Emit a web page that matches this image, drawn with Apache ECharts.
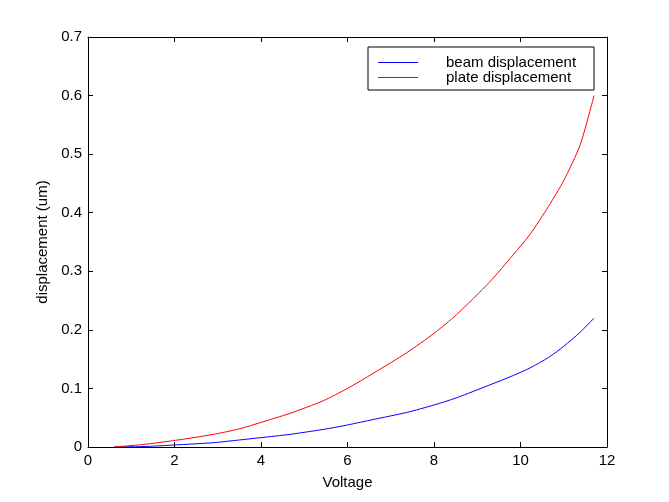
<!DOCTYPE html>
<html>
<head>
<meta charset="utf-8">
<script src="https://cdn.jsdelivr.net/npm/echarts@6/dist/echarts.min.js"></script>
<style>
html,body{margin:0;padding:0;background:#fff;}
#chart{width:669px;height:502px;}
</style>
</head>
<body>
<div id="chart"></div>
<script>
// Data
var voltage = [0.6, 1.36, 2.13, 2.9, 3.5, 4.0, 4.67, 5.44, 6.0, 6.6, 7.37, 8.0, 8.52, 9.29, 9.83, 10.22, 10.65, 11.0, 11.38, 11.7];
var beamDisp = [0, 0.001, 0.004, 0.0074, 0.012, 0.016, 0.0216, 0.030, 0.0376, 0.047, 0.059, 0.0717, 0.084, 0.106, 0.122, 0.135, 0.153, 0.172, 0.196, 0.22];
var plateDisp = [0, 0.005, 0.0125, 0.0216, 0.031, 0.042, 0.0575, 0.079, 0.100, 0.126, 0.161, 0.194, 0.226, 0.282, 0.328, 0.363, 0.411, 0.455, 0.516, 0.600];
var seriesNames = ['beam displacement', 'plate displacement'];
var xTitle = 'Voltage';
var yTitle = 'displacement (um)';

function pairs(xs, ys) { return xs.map(function (x, i) { return [x, ys[i]]; }); }

var FONT = 'Liberation Sans, Arial, sans-serif';
var chart = echarts.init(document.getElementById('chart'), null, { renderer: 'canvas' });
function axisLine() { return { show: true, onZero: false, lineStyle: { color: '#000', width: 1 } }; }
function tick() { return { show: true, inside: true, length: 5, lineStyle: { color: '#000', width: 1 } }; }
var label = { color: '#000', fontSize: 15, fontFamily: FONT };

chart.setOption({
  animation: false,
  backgroundColor: '#fff',
  grid: { left: 88, right: 62, top: 37, bottom: 55, containLabel: false },
  legend: {
    orient: 'vertical',
    left: 368,
    top: 47,
    data: seriesNames,
    icon: 'rect',
    itemWidth: 40,
    itemHeight: 1,
    itemGap: 0,
    padding: [8, 8, 5, 10],
    borderColor: '#000',
    borderWidth: 1,
    backgroundColor: '#fff',
    textStyle: { color: '#000', fontSize: 15, fontFamily: FONT, lineHeight: 14, padding: [0, 0, 0, 23], width: 140 }
  },
  xAxis: [
    {
      type: 'value', min: 0, max: 12, interval: 2, position: 'bottom',
      name: xTitle, nameLocation: 'middle', nameGap: 28,
      nameTextStyle: { color: '#000', fontSize: 15, fontFamily: FONT },
      axisLine: axisLine(), axisTick: tick(),
      axisLabel: Object.assign({ margin: 6 }, label),
      splitLine: { show: false }
    },
    {
      type: 'value', min: 0, max: 12, interval: 2, position: 'top',
      axisLine: axisLine(), axisTick: tick(), axisLabel: { show: false }, splitLine: { show: false }
    }
  ],
  yAxis: [
    {
      type: 'value', min: 0, max: 0.7, interval: 0.1, position: 'left',
      name: yTitle, nameLocation: 'middle', nameGap: 36,
      nameTextStyle: { color: '#000', fontSize: 15, fontFamily: FONT },
      axisLine: axisLine(), axisTick: tick(),
      axisLabel: Object.assign({
        margin: 6,
        formatter: function (v) { return v === 0 ? '0' : v.toFixed(1); }
      }, label),
      splitLine: { show: false }
    },
    {
      type: 'value', min: 0, max: 0.7, interval: 0.1, position: 'right',
      axisLine: axisLine(), axisTick: tick(), axisLabel: { show: false }, splitLine: { show: false }
    }
  ],
  series: [
    {
      name: seriesNames[0], type: 'line', data: pairs(voltage, beamDisp),
      showSymbol: false, symbol: 'none', smooth: 0.25,
      lineStyle: { color: '#0000FF', width: 1 }, itemStyle: { color: '#0000FF' }
    },
    {
      name: seriesNames[1], type: 'line', data: pairs(voltage, plateDisp),
      showSymbol: false, symbol: 'none', smooth: 0.25,
      lineStyle: { color: '#FF0000', width: 1 }, itemStyle: { color: '#FF0000' }
    }
  ]
});
</script>
</body>
</html>
